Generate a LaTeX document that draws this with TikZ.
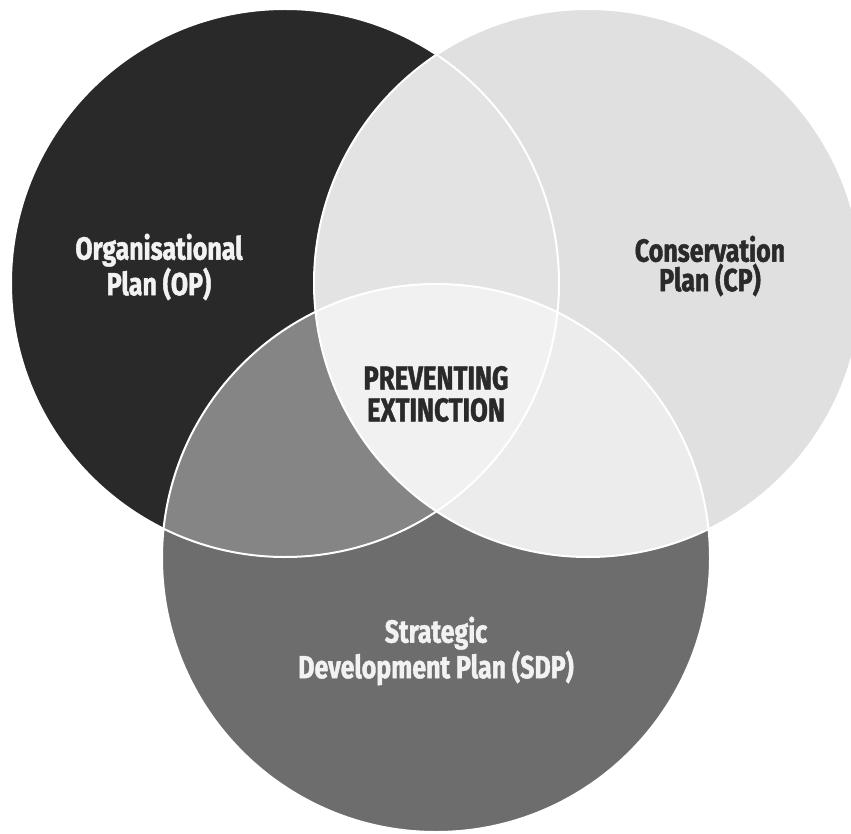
\documentclass[tikz,border=0pt]{standalone}
\usepackage{fontspec}
\newfontfamily\vennfont[FakeStretch=0.78,FakeBold=1.3]{Fira Sans}
\definecolor{opfill}{HTML}{292929}
\definecolor{cpfill}{HTML}{E0E0E0}
\definecolor{sdpfill}{HTML}{6D6D6D}
\definecolor{opcpfill}{HTML}{E3E3E3}
\definecolor{opsdpfill}{HTML}{858585}
\definecolor{cpsdpfill}{HTML}{ECECEC}
\definecolor{allfill}{HTML}{F1F1F1}
\definecolor{darktext}{HTML}{2A2A2A}
\definecolor{lighttext}{HTML}{F2F2F2}
\tikzset{
  ring/.style={draw=white, line width=2pt},
  vennlabel/.style={align=center, inner sep=0pt,
    font=\vennfont\bfseries\fontsize{32}{29.5}\selectfont},
}
\begin{document}
\begin{tikzpicture}[x=1pt, y=-1pt]
  \useasboundingbox (0,0) rectangle (851,834);
  \def\R{274}
  \coordinate (op) at (285,283);
  \coordinate (cp) at (588,283);
  \coordinate (sdp) at (436,558);

  % base discs
  \fill[opfill] (op) circle[radius=\R];
  \fill[cpfill] (cp) circle[radius=\R];
  \fill[sdpfill] (sdp) circle[radius=\R];

  % pairwise overlaps
  \begin{scope}
    \clip (op) circle[radius=\R];
    \fill[opcpfill] (cp) circle[radius=\R];
  \end{scope}
  \begin{scope}
    \clip (op) circle[radius=\R];
    \fill[opsdpfill] (sdp) circle[radius=\R];
  \end{scope}
  \begin{scope}
    \clip (cp) circle[radius=\R];
    \fill[cpsdpfill] (sdp) circle[radius=\R];
  \end{scope}
  % centre overlap
  \begin{scope}
    \clip (op) circle[radius=\R];
    \clip (cp) circle[radius=\R];
    \fill[allfill] (sdp) circle[radius=\R];
  \end{scope}

  % outlines
  \draw[ring] (op) circle[radius=\R];
  \draw[ring] (cp) circle[radius=\R];
  \draw[ring] (sdp) circle[radius=\R];

  % labels
  \node[vennlabel, text=lighttext] (oplabel) at (159,267) {Organisational\\Plan (OP)};
  \node[vennlabel, text=darktext] (cplabel) at (710,266) {Conservation\\Plan (CP)};
  \node[vennlabel, text=darktext, font=\vennfont\bfseries\fontsize{33}{32}\selectfont] (centrelabel) at (436,394) {PREVENTING\\EXTINCTION};
  \node[vennlabel, text=lighttext] (sdplabel) at (436,651) {Strategic\\Development Plan (SDP)};
\end{tikzpicture}
\end{document}
